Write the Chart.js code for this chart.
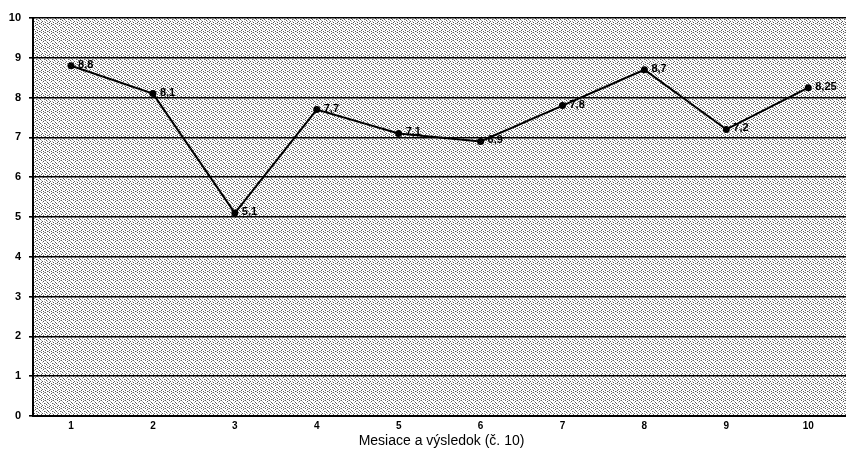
<!DOCTYPE html>
<html>
<head>
<meta charset="utf-8">
<script src="https://cdn.jsdelivr.net/npm/chart.js@4/dist/chart.umd.min.js"></script>
<style>
  html, body { margin: 0; padding: 0; background: #fff; overflow: hidden; }
  #wrap { width: 846px; height: 453px; position: relative; overflow: hidden; }
</style>
</head>
<body>
<div id="wrap"><canvas id="chart" width="856" height="453"></canvas></div>
<script>
// data
const months = [1, 2, 3, 4, 5, 6, 7, 8, 9, 10];
const scores = [8.8, 8.1, 5.1, 7.7, 7.1, 6.9, 7.8, 8.7, 7.2, 8.25];
const scoreLabels = ["8,8", "8,1", "5,1", "7,7", "7,1", "6,9", "7,8", "8,7", "7,2", "8,25"];
const yTicks = [0, 1, 2, 3, 4, 5, 6, 7, 8, 9, 10];
const xTitle = "Mesiace a výsledok (č. 10)";

// stippled grey like the scanned plot area (fixed 8x8 tile, scattered dots)
function makeStipple(ctx) {
    const tile = document.createElement("canvas");
    tile.width = 8;
    tile.height = 8;
    const t = tile.getContext("2d");
    t.fillStyle = "#ffffff";
    t.fillRect(0, 0, 8, 8);
    const dark = [[1, 0], [5, 0], [3, 1], [7, 2], [0, 3], [4, 3], [2, 5],
                  [6, 4], [5, 6], [1, 6], [7, 7], [3, 7]];
    const mid = [[6, 1], [2, 2], [5, 3], [1, 4], [4, 5], [7, 5], [0, 7], [4, 0]];
    t.fillStyle = "#5a5a5a";
    dark.forEach(p => t.fillRect(p[0], p[1], 1, 1));
    t.fillStyle = "#b0b0b0";
    mid.forEach(p => t.fillRect(p[0], p[1], 1, 1));
    return ctx.createPattern(tile, "repeat");
}

const plotBackground = {
    id: "plotBackground",
    beforeDraw(chart) {
        const { ctx, chartArea: a } = chart;
        ctx.save();
        ctx.fillStyle = makeStipple(ctx);
        ctx.fillRect(a.left, a.top, a.right - a.left, a.bottom - a.top);
        ctx.restore();
    }
};

// value labels to the right of each point
const pointLabels = {
    id: "pointLabels",
    afterDatasetsDraw(chart) {
        const { ctx } = chart;
        const meta = chart.getDatasetMeta(0);
        ctx.save();
        ctx.font = "bold 11px 'Liberation Sans', Arial, sans-serif";
        ctx.fillStyle = "#000";
        ctx.textBaseline = "middle";
        ctx.textAlign = "left";
        meta.data.forEach((pt, i) => {
            ctx.fillText(scoreLabels[i], pt.x + 7, pt.y - 1);
        });
        ctx.restore();
    }
};

const ctx = document.getElementById("chart").getContext("2d");
new Chart(ctx, {
    type: "line",
    data: {
        datasets: [{
            data: months.map((m, i) => ({ x: m, y: scores[i] })),
            borderColor: "#000",
            backgroundColor: "#000",
            borderWidth: 2,
            pointRadius: 2.5,
            pointBackgroundColor: "#000",
            tension: 0
        }]
    },
    options: {
        responsive: false,
        animation: false,
        layout: { padding: { top: 18, right: 0, left: 0, bottom: 0 } },
        plugins: {
            legend: { display: false },
            tooltip: { enabled: false }
        },
        scales: {
            x: {
                type: "linear",
                min: 0.536,
                max: 10.51,
                afterBuildTicks: s => { s.ticks = months.map(v => ({ value: v })); },
                afterFit: s => { s.height = 37; },
                grid: { display: false, drawTicks: false },
                border: { display: true, color: "#000", width: 2 },
                ticks: {
                    color: "#000",
                    padding: 4,
                    font: { family: "'Liberation Sans', Arial, sans-serif", size: 10, weight: "bold" }
                },
                title: {
                    display: true,
                    text: xTitle,
                    color: "#000",
                    padding: { top: 0, bottom: 3 },
                    font: { family: "'Liberation Sans', Arial, sans-serif", size: 14 }
                }
            },
            y: {
                min: 0,
                max: 10,
                afterBuildTicks: s => { s.ticks = yTicks.map(v => ({ value: v })); },
                afterFit: s => { s.width = 33; },
                grid: {
                    color: "#000",
                    lineWidth: 1.6,
                    drawTicks: true,
                    tickLength: 4
                },
                border: { display: true, color: "#000", width: 2 },
                ticks: {
                    color: "#000",
                    padding: 8,
                    font: { family: "'Liberation Sans', Arial, sans-serif", size: 11, weight: "bold" }
                }
            }
        }
    },
    plugins: [plotBackground, pointLabels]
});
</script>
</body>
</html>
